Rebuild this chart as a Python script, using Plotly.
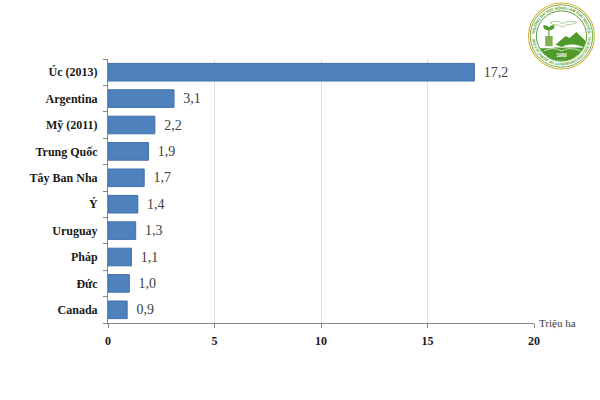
import base64
import plotly.graph_objects as go

categories = ["Úc (2013)", "Argentina", "Mỹ (2011)", "Trung Quốc", "Tây Ban Nha", "Ý", "Uruguay", "Pháp", "Đức", "Canada"]
values = [17.2, 3.1, 2.2, 1.9, 1.7, 1.4, 1.3, 1.1, 1.0, 0.9]
value_labels = ["17,2", "3,1", "2,2", "1,9", "1,7", "1,4", "1,3", "1,1", "1,0", "0,9"]
x_ticks = [0, 5, 10, 15, 20]
unit_label = "Triệu ha"
SERIF = "Liberation Serif, Times New Roman, serif"

logo_svg = '''<svg xmlns="http://www.w3.org/2000/svg" viewBox="0 0 100 100" width="100" height="100">
<defs>
<path id="r" d="M50 50 m-39.5 0 a39.5 39.5 0 1 1 79 0 a39.5 39.5 0 1 1 -79 0"/>
<clipPath id="c"><circle cx="50" cy="50" r="36.5"/></clipPath>
</defs>
<circle cx="50" cy="50" r="48.5" fill="#fff" stroke="#d8b23c" stroke-width="1.6"/>
<circle cx="50" cy="50" r="46" fill="none" stroke="#4f9a28" stroke-width="1.2"/>
<circle cx="50" cy="50" r="37" fill="#fff" stroke="#4f9a28" stroke-width="1.4"/>
<text font-size="5.6" font-weight="bold" fill="#4f9a28" font-family="Liberation Sans"><textPath href="#r" startOffset="1%" textLength="242">TRƯỜNG ĐẠI HỌC NÔNG LÂM THÁI NGUYÊN · THAI NGUYEN UNIVERSITY OF AGRICULTURE</textPath></text>
<g clip-path="url(#c)">
<path d="M33 30 Q44 26 51 32 Q60 26 72 30 L65 33 Q57 32 51 37 Q44 32 37 33 Z" fill="none" stroke="#7fb24f" stroke-width="0.9"/>
<path d="M38 66 L56 50 L62 53 L72 44 L90 62 L90 70 L38 70 Z" fill="#4f9a28"/>
<rect x="10" y="68" width="80" height="24" fill="#4f9a28"/>
<path d="M20 67 Q36 59 50 67 Q64 59 82 67" fill="#fff" stroke="#fff" stroke-width="1.4"/>
<path d="M24 72 Q38 65 50 72 Q62 65 78 72" fill="none" stroke="#fff" stroke-width="1"/>
</g>
<rect x="26" y="50" width="11" height="15" fill="#7fb24f"/>
<path d="M31.5 50 V37 M31.5 41 Q24 41 24 35 Q31.5 35 31.5 41 M31.5 41 Q39 41 39 35 Q31.5 35 31.5 41" fill="#4f9a28" stroke="#4f9a28" stroke-width="1.5"/>
<text x="50" y="81" font-size="7" font-weight="bold" fill="#fff" text-anchor="middle" font-family="Liberation Sans">1969</text>
</svg>'''
logo_uri = "data:image/svg+xml;base64," + base64.b64encode(logo_svg.encode("utf-8")).decode()

fig = go.Figure(go.Bar(
    y=categories, x=values, orientation="h",
    marker=dict(color="#4f81bd", line=dict(color="#3f70ab", width=1)),
    width=0.667,
    text=value_labels, textposition="outside", cliponaxis=False,
    texttemplate="&nbsp;\u2009%{text}",
    textfont=dict(family=SERIF, size=14, color="#404040"),
    hoverinfo="skip",
))
fig.update_layout(
    width=600, height=400, autosize=False, showlegend=False,
    margin=dict(l=108, r=65.5, t=59, b=77),
    paper_bgcolor="white", plot_bgcolor="white",
    xaxis=dict(range=[0, 20], tickvals=x_ticks, ticktext=[str(t) for t in x_ticks],
               showgrid=True, gridcolor="#e0e0e0", gridwidth=1, zeroline=False,
               showline=True, linecolor="#868686", linewidth=1,
               ticks="outside", ticklen=4, tickcolor="#868686", ticklabelstandoff=3,
               tickfont=dict(family=SERIF, size=12, color="#1a1a1a", weight="bold")),
    yaxis=dict(categoryorder="array", categoryarray=categories[::-1],
               showgrid=False, zeroline=False, showline=True, linecolor="#868686", linewidth=1,
               tickson="boundaries", ticks="outside", ticklen=4, tickcolor="#868686", ticklabelstandoff=7,
               tickfont=dict(family=SERIF, size=12, color="#1a1a1a", weight="bold")),
    bargap=0.32,
    annotations=[dict(text=unit_label, xref="x", yref="paper", x=20, y=0, xanchor="left", yanchor="middle",
                      xshift=3, showarrow=False, font=dict(family=SERIF, size=11, color="#404040"))],
    images=[dict(source=logo_uri, xref="paper", yref="paper",
                 x=(528-108)/426.5, y=(323-2)/264, sizex=68/426.5, sizey=68/264,
                 xanchor="left", yanchor="top", sizing="contain", layer="above")],
)
fig.write_html("out.html", config=dict(displayModeBar=False),
               post_script=["document.body.style.margin='0';"])
